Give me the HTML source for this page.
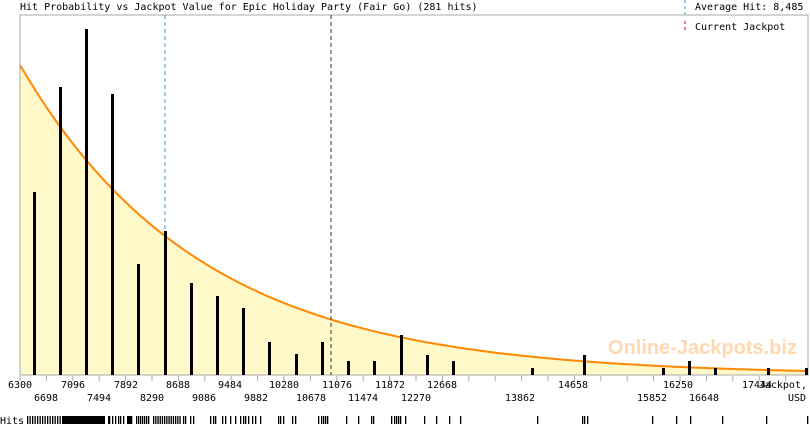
<!DOCTYPE html>
<html><head><meta charset="utf-8"><style>
html,body{margin:0;padding:0;background:#fff;width:810px;height:425px;overflow:hidden}
text{font-family:"DejaVu Sans Mono","Liberation Mono",monospace;font-size:10px;fill:#000}
</style></head><body>
<svg width="810" height="425" xmlns="http://www.w3.org/2000/svg">
<text x="20" y="10">Hit Probability vs Jackpot Value for Epic Holiday Party (Fair Go) (281 hits)</text>
<line x1="685" y1="0" x2="685" y2="15" stroke="#3399cc" stroke-dasharray="3,3"/>
<text x="695" y="10">Average Hit: 8,485</text>
<line x1="685" y1="21" x2="685" y2="33" stroke="#cc0000" stroke-dasharray="3,3"/>
<text x="695" y="30">Current Jackpot</text>
<path id="fill" fill="#fff8c8" stroke="none"/>
<polyline id="curve" fill="none" stroke="#ff8800" stroke-width="2"/>
<text x="608" y="354" style="font-family:'Liberation Sans',sans-serif;font-size:20px;font-weight:bold;fill:#ffd8b0">Online-Jackpots.biz</text>
<rect x="20" y="15" width="788" height="360" fill="none" stroke="#aaa"/>
<line x1="165" y1="15" x2="165" y2="375" stroke="#3399cc" stroke-dasharray="4,3"/>
<line x1="331" y1="15" x2="331" y2="375" stroke="#333" stroke-dasharray="4,3"/>
<g id="bars" fill="#000"></g>
<g id="ticks" stroke="#aaa"></g>
<g id="lab"></g>
<text x="0" y="424">Hits</text>
<g id="hits" fill="#000"></g>
<script>
(function(){
var ns="http://www.w3.org/2000/svg";
function el(t,a,p){var e=document.createElementNS(ns,t);for(var k in a)e.setAttribute(k,a[k]);document.getElementById(p).appendChild(e);return e;}
var pts=[],d="M20,375";
for(var x=20;x<=808;x+=2){var y=375-310*Math.exp(-0.00553*(x-20));pts.push(x+","+y.toFixed(1));d+=" L"+x+","+y.toFixed(1);}
d+=" L808,375 Z";
document.getElementById("fill").setAttribute("d",d);
document.getElementById("curve").setAttribute("points",pts.join(" "));
var bars=[[34,192],[60,87],[86,29],[112,94],[138,264],[165,231],[191,283],[217,296],[243,308],[269,342],[296,354],[322,342],[348,361],[374,361],[401,335],[427,355],[453,361],[532,368],[584,355],[663,368],[689,361],[715,368],[768,368],[806,368]];
bars.forEach(function(b){el("rect",{x:b[0]-1,y:b[1],width:3,height:375-b[1]},"bars");});
for(var i=0;i<30;i++){var x=20+i*26.4;el("line",{x1:x,y1:376,x2:x,y2:381},"ticks");}
var topL=[[6300,20],[7096,73],[7892,126],[8688,178],[9484,230],[10280,284],[11076,337],[11872,390],[12668,442],[14658,573],[16250,678],[17444,757]];
var botL=[[6698,46],[7494,99],[8290,152],[9086,204],[9882,256],[10678,311],[11474,363],[12270,416],[13862,520],[15852,652],[16648,704]];
topL.forEach(function(t){var e=el("text",{x:t[1],y:388,"text-anchor":"middle"},"lab");e.textContent=t[0];});
botL.forEach(function(t){var e=el("text",{x:t[1],y:401,"text-anchor":"middle"},"lab");e.textContent=t[0];});
var e=el("text",{x:807,y:388,"text-anchor":"end"},"lab");e.textContent="Jackpot,";
e=el("text",{x:797,y:401,"text-anchor":"middle"},"lab");e.textContent="USD";
var h=[];
for(var x=27;x<62;x+=2.5)h.push(x);
el("rect",{x:62,y:416,width:43,height:8},"hits");
[108,109,112,115,118,120,123,127,128,129,130,131].forEach(function(x){h.push(x)});
for(var x=136;x<150;x+=2)h.push(x);
for(var x=153;x<180;x+=2.2)h.push(x);
[183,185,190,193,210,213,215,222,225,230,235,240,243,245,248,252,255,260,278,280,283,292,295,318,321,323,325,327,346,358,371,373,391,394,396,398,400,405,424,436,449,460,537,582,584,587,652,676,690,722,766,807].forEach(function(x){h.push(x)});
h.forEach(function(x){el("rect",{x:x,y:416,width:1.3,height:8},"hits");});
})();
</script>
</svg>
</body></html>
